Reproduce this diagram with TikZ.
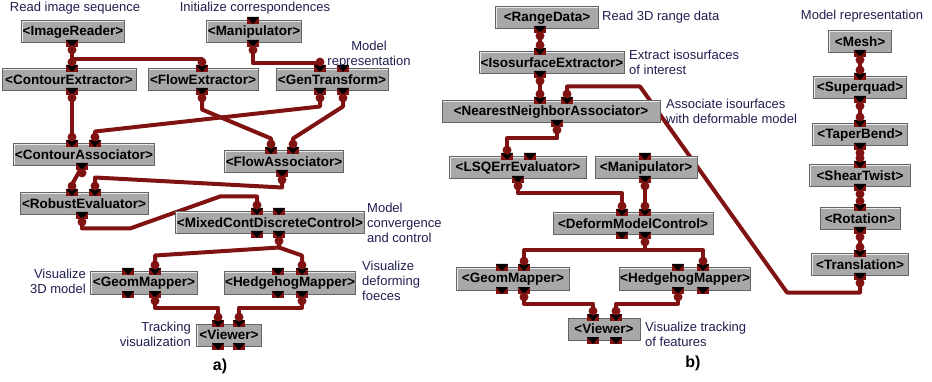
\documentclass[tikz,border=0pt]{standalone}
\usepackage{fontspec}
\setmainfont{Liberation Sans}
\usetikzlibrary{backgrounds}

\definecolor{wirered}{RGB}{128,18,18}
\definecolor{modgray}{RGB}{168,168,168}
\definecolor{modedge}{RGB}{100,100,100}
\definecolor{notenavy}{RGB}{30,30,80}

\tikzset{
  module/.style={draw=modedge, line width=1pt, fill=modgray, minimum height=22pt, inner sep=1pt,
    font=\bfseries\fontsize{13.5}{14}\selectfont,
    path picture={\draw[white!75!modgray, line width=2pt] (path picture bounding box.south west) -- (path picture bounding box.north west) -- (path picture bounding box.north east);}},
  pin/.style={fill=wirered, minimum width=12pt, minimum height=7pt, inner sep=0pt,
    path picture={\fill[black] (path picture bounding box.north west) -- (path picture bounding box.north east) -- (path picture bounding box.south) -- cycle;}},
  blob/.style={circle, fill=wirered, minimum size=9pt, inner sep=0pt},
  inpin/.style={pin, label={[blob, label distance=-2pt]90:{}}},
  outpin/.style={pin, label={[blob, label distance=-2pt]-90:{}}},
  wire/.style={draw=wirered, line width=4pt, line join=round},
  note/.style={text=notenavy, font=\fontsize{13}{15}\selectfont, inner sep=0pt},
  panellabel/.style={font=\bfseries\fontsize{16}{18}\selectfont, inner sep=0pt},
}

\begin{document}
\begin{tikzpicture}[x=1pt, y=-1pt]
	\useasboundingbox (0,0) rectangle (932,382);
	
	\node[module, minimum width=103pt] (ir) at (73,32) {<ImageReader>};
	\node[module, minimum width=95pt] (manL) at (254,32) {<Manipulator>};
	\node[module, minimum width=134pt] (ce) at (69,80) {<ContourExtractor>};
	\node[module, minimum width=110pt] (fe) at (203,80) {<FlowExtractor>};
	\node[module, minimum width=112pt] (gt) at (332,80) {<GenTransform>};
	\node[module, minimum width=138pt] (ca) at (84,155) {<ContourAssociator>};
	\node[module, minimum width=118pt] (fa) at (284,162) {<FlowAssociator>};
	\node[module, minimum width=128pt] (re) at (84,204) {<RobustEvaluator>};
	\node[module, minimum width=186pt] (mc) at (270,223) {<MixedContDiscreteControl>};
	\node[module, minimum width=107pt] (gmL) at (144,283) {<GeomMapper>};
	\node[module, minimum width=130pt] (hmL) at (290,283) {<HedgehogMapper>};
	\node[module, minimum width=65pt] (vwL) at (229,335) {<Viewer>};
	
	\node[module, minimum width=103pt] (rd) at (547,18) {<RangeData>};
	\node[module, minimum width=131pt] (ie) at (552,63) {<IsosurfaceExtractor>};
	\node[module, minimum width=218pt] (nn) at (551,112) {<NearestNeighborAssociator>};
	\node[module, minimum width=137pt] (lsq) at (518,168) {<LSQErrEvaluator>};
	\node[module, minimum width=102pt] (manR) at (646,168) {<Manipulator>};
	\node[module, minimum width=160pt] (dmc) at (633,224) {<DeformModelControl>};
	\node[module, minimum width=113pt] (gmR) at (513,279) {<GeomMapper>};
	\node[module, minimum width=130pt] (hmR) at (685,279) {<HedgehogMapper>};
	\node[module, minimum width=72pt] (vwR) at (604,329) {<Viewer>};
	
	\foreach \m/\y/\w/\t in {mesh/42/63/Mesh, sq/88/93/Superquad, tb/135/95/TaperBend,
		st/176/101/ShearTwist, rot/219/80/Rotation, tr/265/97/Translation}
		\node[module, minimum width=\w pt] (\m) at (860,\y) {<\t>};
	
	\node[outpin] (ir-o) at (72,0 |- ir.south) {};
	\node[pin] (manL-i) at (253,0 |- manL.north) {};
	\node[outpin] (manL-o) at (253,0 |- manL.south) {};
	\node[inpin] (ce-i) at (72,0 |- ce.north) {};
	\node[outpin] (ce-o) at (72,0 |- ce.south) {};
	\node[inpin] (fe-i) at (202,0 |- fe.north) {};
	\node[outpin] (fe-o) at (202,0 |- fe.south) {};
	\node[inpin] (gt-i1) at (320,0 |- gt.north) {};
	\node[pin] (gt-i2) at (343,0 |- gt.north) {};
	\node[outpin] (gt-o1) at (320,0 |- gt.south) {};
	\node[outpin] (gt-o2) at (343,0 |- gt.south) {};
	\node[inpin] (ca-i1) at (72,0 |- ca.north) {};
	\node[inpin] (ca-i2) at (95,0 |- ca.north) {};
	\node[outpin] (ca-o) at (82,0 |- ca.south) {};
	\node[inpin] (fa-i1) at (271,0 |- fa.north) {};
	\node[inpin] (fa-i2) at (293,0 |- fa.north) {};
	\node[outpin] (fa-o) at (282,0 |- fa.south) {};
	\node[inpin] (re-i1) at (72,0 |- re.north) {};
	\node[inpin] (re-i2) at (95,0 |- re.north) {};
	\node[outpin] (re-o) at (82,0 |- re.south) {};
	\node[inpin] (mc-i1) at (257,0 |- mc.north) {};
	\node[pin] (mc-i2) at (279,0 |- mc.north) {};
	\node[pin] (mc-o1) at (257,0 |- mc.south) {};
	\node[outpin] (mc-o2) at (279,0 |- mc.south) {};
	\node[pin] (gmL-i1) at (128,0 |- gmL.north) {};
	\node[inpin] (gmL-i2) at (155,0 |- gmL.north) {};
	\node[pin] (gmL-o1) at (128,0 |- gmL.south) {};
	\node[outpin] (gmL-o2) at (155,0 |- gmL.south) {};
	\node[pin] (hmL-i1) at (278,0 |- hmL.north) {};
	\node[inpin] (hmL-i2) at (302,0 |- hmL.north) {};
	\node[pin] (hmL-o1) at (278,0 |- hmL.south) {};
	\node[outpin] (hmL-o2) at (302,0 |- hmL.south) {};
	\node[inpin] (vwL-i1) at (218,0 |- vwL.north) {};
	\node[inpin] (vwL-i2) at (239,0 |- vwL.north) {};
	\node[pin] (vwL-o1) at (218,0 |- vwL.south) {};
	\node[pin] (vwL-o2) at (239,0 |- vwL.south) {};
	
	\node[outpin] (rd-o) at (540,0 |- rd.south) {};
	\node[inpin] (ie-i) at (540,0 |- ie.north) {};
	\node[outpin] (ie-o) at (540,0 |- ie.south) {};
	\node[inpin] (nn-i1) at (540,0 |- nn.north) {};
	\node[inpin] (nn-i2) at (567,0 |- nn.north) {};
	\node[outpin] (nn-o) at (557,0 |- nn.south) {};
	\node[inpin] (lsq-i1) at (507,0 |- lsq.north) {};
	\node[pin] (lsq-i2) at (530,0 |- lsq.north) {};
	\node[outpin] (lsq-o) at (518,0 |- lsq.south) {};
	\node[pin] (manR-i) at (645,0 |- manR.north) {};
	\node[outpin] (manR-o) at (645,0 |- manR.south) {};
	\node[inpin] (dmc-i1) at (622,0 |- dmc.north) {};
	\node[inpin] (dmc-i2) at (645,0 |- dmc.north) {};
	\node[pin] (dmc-o1) at (622,0 |- dmc.south) {};
	\node[outpin] (dmc-o2) at (645,0 |- dmc.south) {};
	\node[pin] (gmR-i1) at (502,0 |- gmR.north) {};
	\node[inpin] (gmR-i2) at (524,0 |- gmR.north) {};
	\node[pin] (gmR-o1) at (502,0 |- gmR.south) {};
	\node[outpin] (gmR-o2) at (524,0 |- gmR.south) {};
	\node[pin] (hmR-i1) at (678,0 |- hmR.north) {};
	\node[inpin] (hmR-i2) at (703,0 |- hmR.north) {};
	\node[outpin] (hmR-o1) at (678,0 |- hmR.south) {};
	\node[pin] (hmR-o2) at (703,0 |- hmR.south) {};
	\node[inpin] (vwR-i1) at (593,0 |- vwR.north) {};
	\node[inpin] (vwR-i2) at (616,0 |- vwR.north) {};
	\node[pin] (vwR-o1) at (593,0 |- vwR.south) {};
	\node[pin] (vwR-o2) at (616,0 |- vwR.south) {};
	
	\node[outpin] (mesh-o) at (860,0 |- mesh.south) {};
	\foreach \m in {sq,tb,st,rot,tr}{
		\node[inpin] (\m-i) at (860,0 |- \m.north) {};
		\node[outpin] (\m-o) at (860,0 |- \m.south) {};
	}
	
	\begin{scope}[on background layer]
		\draw[wire] (ir-o) -- (ce-i);
		\draw[wire] (ir-o) -- ++(0,16) -| (fe-i);
		\draw[wire] (manL-o) -- ++(0,20) -| (gt-i1);
		\draw[wire] (ce-o) -- (ca-i1);
		\draw[wire] (gt-o1) -- ++(0,15) -- ([yshift=12pt]ca-i2.center) -- (ca-i2);
		\draw[wire] (fe-o) -- ++(0,18) -- ([yshift=12pt]fa-i1.center) -- (fa-i1);
		\draw[wire] (gt-o2) -- ++(0,15) -- ([yshift=12pt]fa-i2.center) -- (fa-i2);
		\draw[wire] (ca-o) -- ([yshift=8pt]re-i1.center) -- (re-i1);
		\draw[wire] (fa-o) -- ++(0,14) -- ([yshift=15pt]re-i2.center) -- (re-i2);
		\draw[wire] (re-o) -- ++(0,13) -- ++(48,0) -- ++(90,-32) -| (mc-i1);
		\draw[wire] (mc-o2) -- ++(0,13) -- ([yshift=16pt]gmL-i2.center) -- (gmL-i2);
		\draw[wire] (mc-o2) -- ++(0,13) -- ([yshift=16pt]hmL-i2.center) -- (hmL-i2);
		\draw[wire] (gmL-o2) -- ++(0,13) -| (vwL-i1);
		\draw[wire] (hmL-o2) -- ++(0,13) -| (vwL-i2);
		
		\draw[wire] (rd-o) -- (ie-i);
		\draw[wire] (ie-o) -- (nn-i1);
		\draw[wire] (nn-o) -- ++(0,15) -| (lsq-i1);
		\draw[wire] (lsq-o) -- ++(0,14) -| (dmc-i1);
		\draw[wire] (manR-o) -- (dmc-i2);
		\draw[wire] (dmc-o2) -- ++(0,15) -| (gmR-i2);
		\draw[wire] (dmc-o2) -- ++(0,15) -| (hmR-i2);
		\draw[wire] (gmR-o2) -- ++(0,13) -| (vwR-i1);
		\draw[wire] (hmR-o1) -- ++(0,13) -| (vwR-i2);
		
		\foreach \a/\b in {mesh/sq, sq/tb, tb/st, st/rot, rot/tr}
			\draw[wire] (\a-o) -- (\b-i);
		\draw[wire] (tr-o) -- ++(0,16) -- ++(-73,0) -- ([shift={(73pt,14pt)}]nn-i2.center) -- ([yshift=14pt]nn-i2.center) -- (nn-i2);
	\end{scope}
	
	\node[note] (readimg) at (75,8) {Read image sequence};
	\node[note] (initcorr) at (255,8) {Initialize correspondences};
	\node[note, align=center] (modrepL) at (369,55) {Model\\representation};
	\node[note, align=left, anchor=west] (modconv) at (367,223) {Model\\convergence\\and control};
	\node[note, align=right, anchor=east] (vis3d) at (86,281) {Visualize\\3D model};
	\node[note, align=left, anchor=west] (visdef) at (362,281) {Visualize\\deforming\\foeces};
	\node[note, align=right, anchor=east] (trackvis) at (191,334) {Tracking\\visualization};
	\node[panellabel] (capa) at (220,366) {a)};
	
	\node[note, anchor=west] (readrange) at (602,17) {Read 3D range data};
	\node[note, align=left, anchor=west] (extiso) at (629,62) {Extract isosurfaces\\of interest};
	\node[note, align=left, anchor=west] (assoc) at (666,111) {Associate isourfaces\\with deformable model};
	\node[note] (modrepR) at (862,16) {Model representation};
	\node[note, align=left, anchor=west] (vistrack) at (645,334) {Visualize tracking\\of features};
	\node[panellabel] (capb) at (693,363) {b)};
	
\end{tikzpicture}
\end{document}
